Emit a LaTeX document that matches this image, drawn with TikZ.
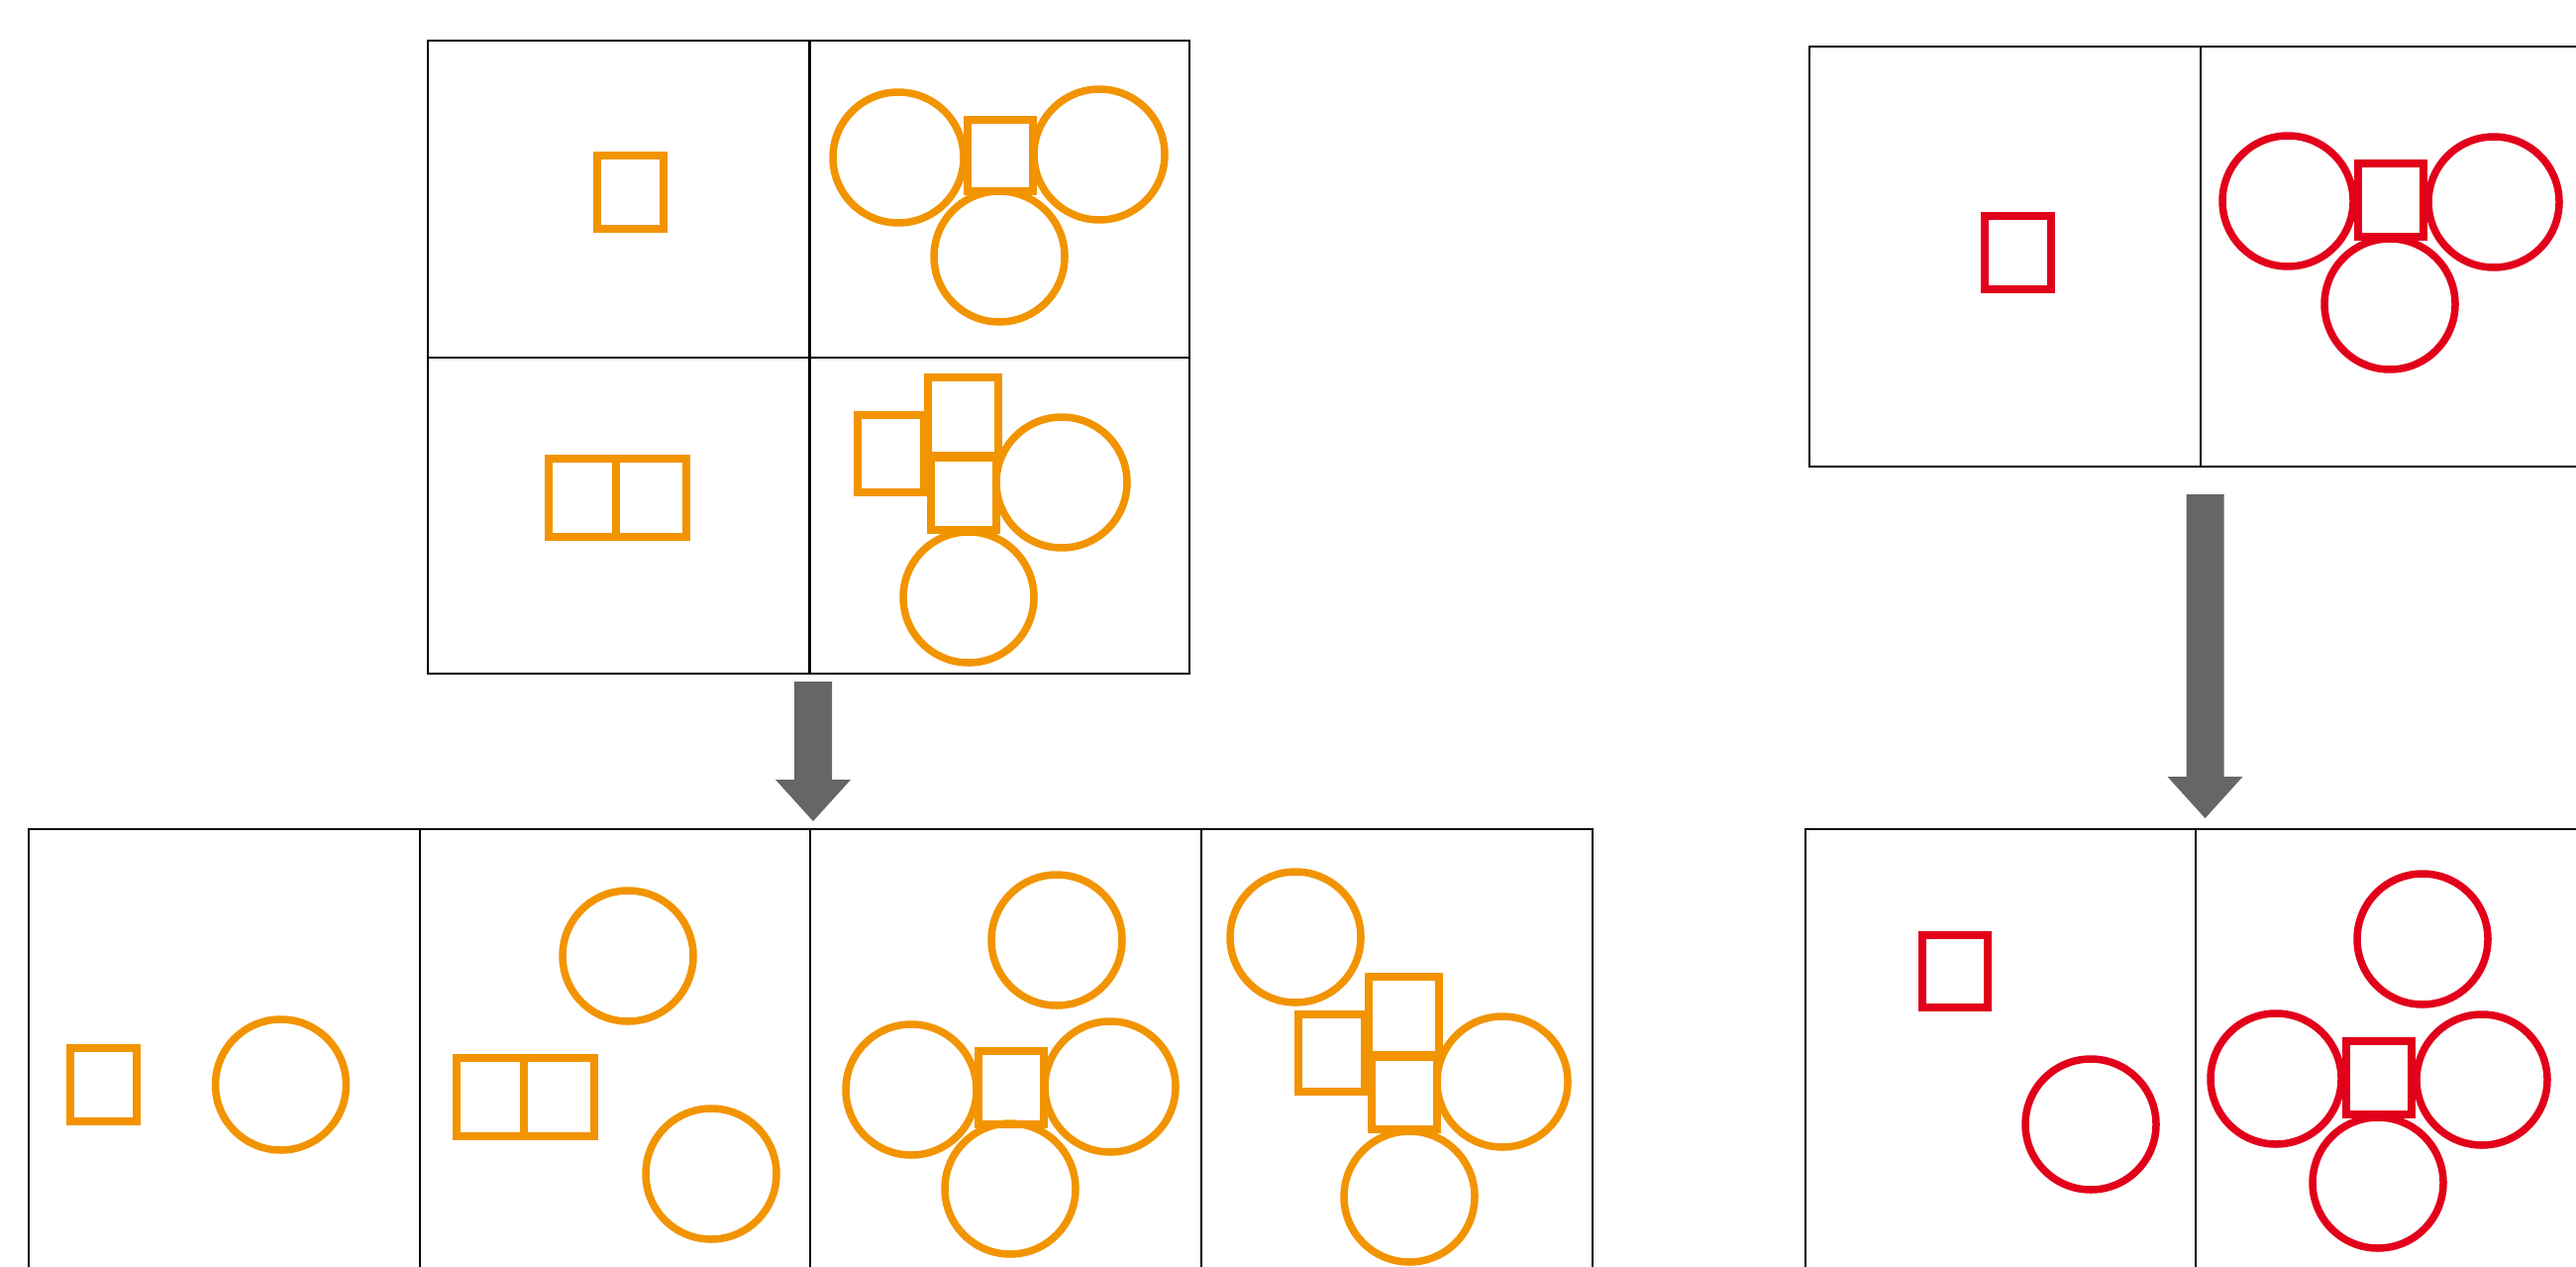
\documentclass[tikz,border=0pt]{standalone}
\usetikzlibrary{calc}
\definecolor{myorange}{RGB}{242,148,0}
\definecolor{myred}{RGB}{226,0,26}
\definecolor{arrowgray}{RGB}{102,102,102}
\tikzset{
  frame/.style={draw=black, line width=2.4},
  oshape/.style={draw=myorange, line width=7.5},
  rshape/.style={draw=myred, line width=7.5},
  arrowfill/.style={fill=arrowgray},
}
\newcommand{\myblockarrow}[2]{%
  \fill[arrowfill] ($(#1)+(-19,0)$) -- ($(#1)+(19,0)$) -- ($(#2)+(19,-42)$) -- ($(#2)+(38,-42)$) -- (#2) -- ($(#2)+(-38,-42)$) -- ($(#2)+(-19,-42)$) -- cycle;}
\begin{document}
\begin{tikzpicture}[x=1pt,y=-1pt]
\clip (0,0) rectangle (2601,1279);
\fill[white] (0,0) rectangle (2601,1279);

% ---------- top-left panel (2x2) ----------
\coordinate (tlA) at (432,41);
\coordinate (tlB) at (1201,680);
\draw[frame] (tlA) rectangle (tlB);
\draw[frame] (817.5,41) -- (817.5,680);
\draw[frame] (432,361) -- (1201,361);
% Q1
\draw[oshape] (603,157) rectangle (670,231);
% Q2
\draw[oshape] (977,121) rectangle (1043,193);
\draw[oshape] (907,159) circle [radius=66];
\draw[oshape] (1110,156) circle [radius=66];
\draw[oshape] (1009,259) circle [radius=66];
% Q3
\draw[oshape] (554,463) rectangle (622,542);
\draw[oshape] (622,463) rectangle (693,542);
% Q4
\draw[oshape] (866,419) rectangle (933,497);
\draw[oshape] (937,381) rectangle (1008,460);
\draw[oshape] (940,462) rectangle (1006,535);
\draw[oshape] (1072,487) circle [radius=66];
\draw[oshape] (978,603) circle [radius=66];

% ---------- top-right panel ----------
\coordinate (trA) at (1827,47);
\coordinate (trB) at (2617,471);
\draw[frame] (trA) rectangle (trB);
\draw[frame] (2222,47) -- (2222,471);
\draw[rshape] (2004,218) rectangle (2071,292);
\draw[rshape] (2381,165) rectangle (2447,239);
\draw[rshape] (2310,203) circle [radius=66];
\draw[rshape] (2518,204) circle [radius=66];
\draw[rshape] (2413,307) circle [radius=66];

% ---------- arrows ----------
\coordinate (a1top) at (821,688);
\coordinate (a1tip) at (821,829);
\myblockarrow{a1top}{a1tip}
\coordinate (a2top) at (2226.5,499);
\coordinate (a2tip) at (2226.5,826);
\myblockarrow{a2top}{a2tip}

% ---------- bottom-left panel (4 cells) ----------
\coordinate (blA) at (29,837);
\coordinate (blB) at (1608,1320);
\draw[frame] (blA) rectangle (blB);
\foreach \xx in {424,818,1213} \draw[frame] (\xx,837) -- (\xx,1320);
% cell 1
\draw[oshape] (71,1058) rectangle (138,1132);
\draw[oshape] (283.5,1095) circle [radius=66];
% cell 2
\draw[oshape] (461,1068) rectangle (529,1147);
\draw[oshape] (529,1068) rectangle (600,1147);
\draw[oshape] (634,965) circle [radius=66];
\draw[oshape] (718,1185) circle [radius=66];
% cell 3
\draw[oshape] (988,1061) rectangle (1054,1135);
\draw[oshape] (1067,949) circle [radius=66];
\draw[oshape] (920,1100) circle [radius=66];
\draw[oshape] (1121,1097) circle [radius=66];
\draw[oshape] (1020,1200) circle [radius=66];
% cell 4
\draw[oshape] (1311,1024) rectangle (1378,1102);
\draw[oshape] (1382,986) rectangle (1453,1065);
\draw[oshape] (1385,1067) rectangle (1451,1140);
\draw[oshape] (1308,946) circle [radius=66];
\draw[oshape] (1517,1092) circle [radius=66];
\draw[oshape] (1423,1208) circle [radius=66];

% ---------- bottom-right panel ----------
\coordinate (brA) at (1823,837);
\coordinate (brB) at (2620,1320);
\draw[frame] (brA) rectangle (brB);
\draw[frame] (2217,837) -- (2217,1320);
\draw[rshape] (1941,944) rectangle (2007,1017);
\draw[rshape] (2111,1135) circle [radius=66];
\draw[rshape] (2369,1051) rectangle (2435,1125);
\draw[rshape] (2446,948) circle [radius=66];
\draw[rshape] (2298,1089) circle [radius=66];
\draw[rshape] (2506,1090) circle [radius=66];
\draw[rshape] (2401,1194) circle [radius=66];
\end{tikzpicture}
\end{document}
